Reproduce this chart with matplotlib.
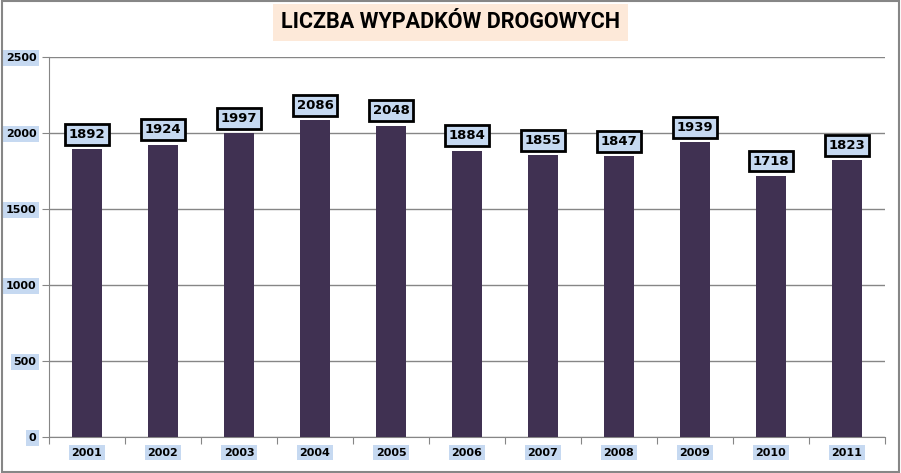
import matplotlib.pyplot as plt
from matplotlib.patches import Rectangle

years = ['2001', '2002', '2003', '2004', '2005', '2006', '2007', '2008', '2009', '2010', '2011']
accidents = [1892, 1924, 1997, 2086, 2048, 1884, 1855, 1847, 1939, 1718, 1823]
y_ticks = [0, 500, 1000, 1500, 2000, 2500]

fig = plt.figure(figsize=(9.01, 4.73), dpi=100)
fig.patches.append(Rectangle((0.002, 0.003), 0.996, 0.994, transform=fig.transFigure,
                             fill=False, edgecolor='#868686', linewidth=1.5))

ax = fig.add_axes([49 / 901, 36 / 473, 836 / 901, 380 / 473])
x = range(len(years))
ax.bar(x, accidents, width=0.4, color='#403152', zorder=3)

ax.set_xlim(-0.5, len(years) - 0.5)
ax.set_ylim(0, 2500)
ax.set_yticks(y_ticks)
ax.yaxis.grid(True, color='#868686', linewidth=1)
ax.set_axisbelow(True)

for s in ['top', 'right']:
    ax.spines[s].set_visible(False)
ax.spines['left'].set_color('#868686')
ax.spines['bottom'].set_color('#868686')

# x ticks sit between the categories, labels in the middle
ax.set_xticks([i - 0.5 for i in range(len(years) + 1)])
ax.set_xticklabels([])
ax.tick_params(axis='x', length=5, color='#868686', direction='out')
ax.tick_params(axis='y', length=5, color='#868686', direction='out', pad=4)

for i, yr in enumerate(years):
    ax.text(i, -70, yr, ha='center', va='top', fontsize=8, fontweight='bold',
            family='DejaVu Sans',
            bbox=dict(boxstyle='square,pad=0.25', facecolor='#c6d9f1', edgecolor='none'))

for lbl in ax.get_yticklabels():
    lbl.set_fontsize(8)
    lbl.set_fontweight('bold')
    lbl.set_family('DejaVu Sans')
    lbl.set_bbox(dict(boxstyle='square,pad=0.25', facecolor='#c6d9f1', edgecolor='none'))

for i, v in enumerate(accidents):
    ax.annotate(str(v), (i, v), xytext=(0, 6), textcoords='offset points',
                ha='center', va='bottom', fontsize=9.5, fontweight='bold',
                bbox=dict(boxstyle='square,pad=0.3', facecolor='#c6d9f1',
                          edgecolor='black', linewidth=2), zorder=5)

fig.text(0.5, 0.953, 'LICZBA WYPADKÓW DROGOWYCH', ha='center', va='center',
         fontsize=15.5, fontweight='bold', family='Roboto',
         bbox=dict(boxstyle='square,pad=0.35', facecolor='#fde9d9', edgecolor='none'))

fig.savefig('out.png', dpi=100)
